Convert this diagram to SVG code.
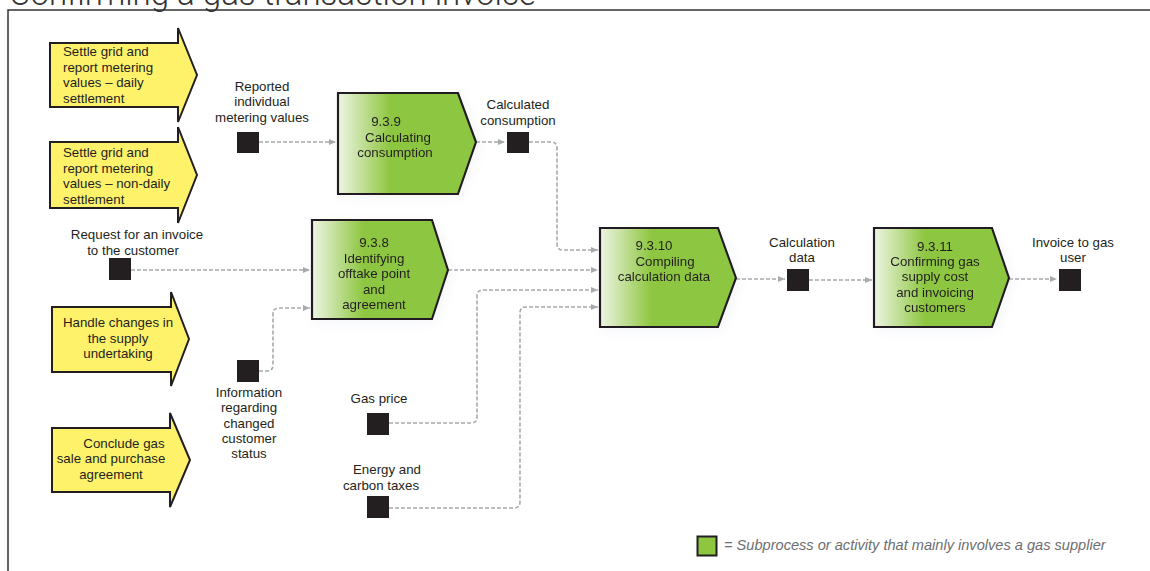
<svg xmlns="http://www.w3.org/2000/svg" width="1150" height="571" viewBox="0 0 1150 571">
<style>
.lbl{font-family:"Liberation Sans",Arial,sans-serif;font-size:13.3px;fill:#231f20;text-anchor:middle}
.lft{text-anchor:start}
.yel{fill:#fff26b;stroke:#231f20;stroke-width:2;stroke-linejoin:miter}
.grn{fill:url(#gg);stroke:#231f20;stroke-width:2.2}
.sq{fill:#231f20}
.con{fill:none;stroke:#a7a9ac;stroke-width:1.6;stroke-dasharray:4 2;marker-end:url(#ah)}
.title{font-family:Roboto,"Liberation Sans",sans-serif;font-weight:300;font-size:33px;fill:#333}
.leg{font-family:"Liberation Sans",Arial,sans-serif;font-size:14.6px;font-style:italic;fill:#6d6e71}
</style>
<defs>
<linearGradient id="gg" x1="0" y1="0" x2="1" y2="0">
<stop offset="0" stop-color="#eef5e4"/>
<stop offset="0.38" stop-color="#8dc63f"/>
<stop offset="1" stop-color="#8dc63f"/>
</linearGradient>
<filter id="sh" x="-20%" y="-20%" width="140%" height="140%">
<feGaussianBlur in="SourceAlpha" stdDeviation="6"/>
<feOffset dx="3" dy="3"/>
<feComponentTransfer><feFuncA type="linear" slope="0.18"/></feComponentTransfer>
<feColorMatrix type="matrix" values="0 0 0 0 0.55 0 0 0 0 0.6 0 0 0 0 0.7 0 0 0 1 0"/>
<feMerge><feMergeNode/><feMergeNode in="SourceGraphic"/></feMerge>
</filter>
<marker id="ah" markerWidth="8" markerHeight="8" refX="7" refY="4" orient="auto" markerUnits="userSpaceOnUse">
<path d="M0,1 L7,4 L0,7 Z" fill="#a7a9ac"/>
</marker>
</defs>
<rect width="1150" height="571" fill="#fff"/>
<text class="title" x="9" y="5">Confirming a gas transaction invoice</text>
<path d="M8,571 V10 H1150" fill="none" stroke="#333" stroke-width="1.5"/>

<g id="connectors">
<path class="con" d="M259,142 H336"/>
<path class="con" d="M476,142 H505"/>
<path class="con" d="M529,142 H551 Q557,142 557,148 V244 Q557,250 563,250 H598"/>
<path class="con" d="M131,270 H310"/>
<path class="con" d="M259,371 H267 Q273,371 273,365 V314 Q273,308 279,308 H310"/>
<path class="con" d="M448,270 H598"/>
<path class="con" d="M389,423 H471 Q477,423 477,417 V296 Q477,290 483,290 H598"/>
<path class="con" d="M389,508 H514 Q520,508 520,502 V313 Q520,307 526,307 H598"/>
<path class="con" d="M736,279 H785"/>
<path class="con" d="M809,280 H872"/>
<path class="con" d="M1009,279 H1057"/>
</g>

<g id="ext-daily">
<path class="yel" d="M50,43 H178 V28 L197,75 L178,122 V107 H50 Z"/>
<text class="lbl lft" x="63" y="56">Settle grid and</text>
<text class="lbl lft" x="63" y="72">report metering</text>
<text class="lbl lft" x="63" y="87">values – daily</text>
<text class="lbl lft" x="63" y="103">settlement</text>
</g>
<g id="ext-nondaily">
<path class="yel" d="M50,142 H178 V127 L197,175 L178,223 V208 H50 Z"/>
<text class="lbl lft" x="63" y="157">Settle grid and</text>
<text class="lbl lft" x="63" y="173">report metering</text>
<text class="lbl lft" x="63" y="188">values – non-daily</text>
<text class="lbl lft" x="63" y="204">settlement</text>
</g>
<g id="ext-handle">
<path class="yel" d="M52,307 H171 V292 L189,339 L171,386 V372 H52 Z"/>
<text class="lbl" x="118" y="327">Handle changes in</text>
<text class="lbl" x="118" y="343">the supply</text>
<text class="lbl" x="118" y="358">undertaking</text>
</g>
<g id="ext-conclude">
<path class="yel" d="M52,428 H170 V413 L190,460 L170,507 V492 H52 Z"/>
<text class="lbl" x="124" y="448">Conclude gas</text>
<text class="lbl" x="111" y="463">sale and purchase</text>
<text class="lbl" x="111" y="479">agreement</text>
</g>

<g id="p939" filter="url(#sh)">
<path class="grn" d="M338,93 H458 L476,142 L458,194 H338 Z"/>
<text class="lbl" x="386" y="126">9.3.9</text>
<text class="lbl" x="398" y="142">Calculating</text>
<text class="lbl" x="395" y="157">consumption</text>
</g>
<g id="p938" filter="url(#sh)">
<path class="grn" d="M312,220 H432 L448,270 L432,319 H312 Z"/>
<text class="lbl" x="374" y="247">9.3.8</text>
<text class="lbl" x="374" y="263">Identifying</text>
<text class="lbl" x="374" y="278">offtake point</text>
<text class="lbl" x="374" y="294">and</text>
<text class="lbl" x="374" y="309">agreement</text>
</g>
<g id="p9310" filter="url(#sh)">
<path class="grn" d="M600,228 H718 L736,278 L718,327 H600 Z"/>
<text class="lbl" x="654" y="250">9.3.10</text>
<text class="lbl" x="665" y="266">Compiling</text>
<text class="lbl" x="664" y="281">calculation data</text>
</g>
<g id="p9311" filter="url(#sh)">
<path class="grn" d="M874,228 H992 L1009,278 L992,327 H874 Z"/>
<text class="lbl" x="935" y="251">9.3.11</text>
<text class="lbl" x="935" y="266">Confirming gas</text>
<text class="lbl" x="935" y="281">supply cost</text>
<text class="lbl" x="935" y="297">and invoicing</text>
<text class="lbl" x="935" y="312">customers</text>
</g>

<g id="d-reported">
<rect class="sq" x="237" y="132" width="22" height="21"/>
<text class="lbl" x="262" y="91">Reported</text>
<text class="lbl" x="262" y="106">individual</text>
<text class="lbl" x="262" y="122">metering values</text>
</g>
<g id="d-calccons">
<rect class="sq" x="507" y="132" width="22" height="21"/>
<text class="lbl" x="518" y="109">Calculated</text>
<text class="lbl" x="518" y="125">consumption</text>
</g>
<g id="d-request">
<rect class="sq" x="109" y="258" width="22" height="22"/>
<text class="lbl" x="137" y="239">Request for an invoice</text>
<text class="lbl" x="133" y="255">to the customer</text>
</g>
<g id="d-info">
<rect class="sq" x="237" y="360" width="22" height="22"/>
<text class="lbl" x="249" y="397">Information</text>
<text class="lbl" x="249" y="412">regarding</text>
<text class="lbl" x="249" y="428">changed</text>
<text class="lbl" x="249" y="443">customer</text>
<text class="lbl" x="249" y="458">status</text>
</g>
<g id="d-gasprice">
<rect class="sq" x="367" y="413" width="22" height="22"/>
<text class="lbl" x="379" y="403">Gas price</text>
</g>
<g id="d-energy">
<rect class="sq" x="367" y="496" width="22" height="22"/>
<text class="lbl" x="387" y="474">Energy and</text>
<text class="lbl" x="381" y="490">carbon taxes</text>
</g>
<g id="d-calcdata">
<rect class="sq" x="787" y="269" width="22" height="22"/>
<text class="lbl" x="802" y="247">Calculation</text>
<text class="lbl" x="802" y="262">data</text>
</g>
<g id="d-invoice">
<rect class="sq" x="1059" y="269" width="22" height="22"/>
<text class="lbl" x="1073" y="247">Invoice to gas</text>
<text class="lbl" x="1073" y="262">user</text>
</g>

<g id="legend">
<rect x="697.5" y="536.5" width="19" height="19" fill="#8dc63f" stroke="#231f20" stroke-width="2"/>
<text class="leg" x="724" y="550">= Subprocess or activity that mainly involves a gas supplier</text>
</g>
</svg>
